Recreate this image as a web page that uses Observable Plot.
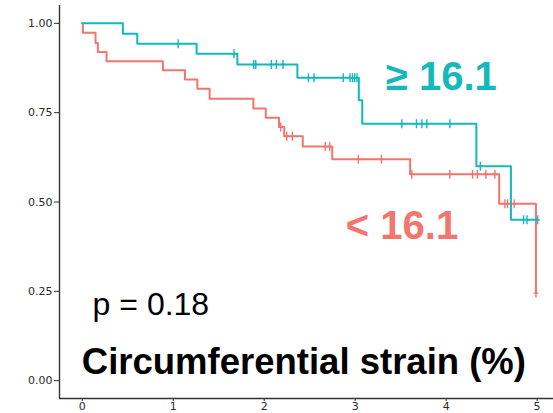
<!DOCTYPE html>
<html>
<head>
<meta charset="utf-8">
<script src="https://cdn.jsdelivr.net/npm/d3@7"></script>
<script src="https://cdn.jsdelivr.net/npm/@observablehq/plot@0.6"></script>
<style>
  html, body { margin: 0; padding: 0; background: #fff; }
</style>
</head>
<body>
<div id="chart"></div>
<script>
// Kaplan–Meier survival by circumferential strain group (time in years)
const groups = ["< 16.1", "≥ 16.1"];
const groupColors = ["#F2766D", "#14B8BD"];

// < 16.1 group: event times and survival after each event
const lowTimes = [0, 0.007, 0.146, 0.172, 0.267, 0.887, 1.129, 1.265, 1.400, 1.881, 2.017, 2.163, 2.220, 2.424, 2.748, 3.604, 4.583, 4.987];
const lowSurv  = [1, 0.974, 0.945, 0.920, 0.894, 0.869, 0.843, 0.817, 0.789, 0.762, 0.736, 0.710, 0.684, 0.655, 0.620, 0.578, 0.495, 0.245];
const lowCensor = [2.181, 2.248, 2.310, 2.671, 2.721, 3.034, 3.289, 3.623, 4.041, 4.290, 4.343, 4.437, 4.536, 4.646, 4.675, 4.748, 4.987];

// ≥ 16.1 group
const highTimes = [0, 0.447, 0.605, 1.257, 1.705, 2.365, 3.040, 3.078, 4.332, 4.712];
const highSurv  = [1, 0.971, 0.943, 0.915, 0.885, 0.848, 0.785, 0.719, 0.600, 0.450];
const highCensor = [1.054, 1.668, 1.885, 1.907, 2.079, 2.134, 2.207, 2.486, 2.548, 2.869, 2.943, 2.970, 2.995, 3.020, 3.513, 3.674, 3.733, 3.788, 4.041, 4.376, 4.851, 4.889, 5.006];

const pValue = "0.18";
const xTicks = [0, 1, 2, 3, 4, 5];
const yTicks = [0, 0.25, 0.5, 0.75, 1];

// survival level in effect at time t
function survivalAt(times, surv, t) {
  let s = surv[0];
  for (let i = 0; i < times.length; i++) if (times[i] <= t) s = surv[i];
  return s;
}

function curveRows(group, times, surv, censor) {
  const rows = times.map((t, i) => ({group, time: t, surv: surv[i]}));
  const end = Math.max(d3.max(times), d3.max(censor));
  if (end > d3.max(times)) rows.push({group, time: end, surv: survivalAt(times, surv, end)});
  return rows;
}

const steps = [
  ...curveRows(groups[0], lowTimes, lowSurv, lowCensor),
  ...curveRows(groups[1], highTimes, highSurv, highCensor)
];
const censored = [
  ...lowCensor.map(t => ({group: groups[0], time: t, surv: survivalAt(lowTimes, lowSurv, t)})),
  ...highCensor.map(t => ({group: groups[1], time: t, surv: survivalAt(highTimes, highSurv, t)}))
];

// "+" tick used for censored observations
const censorSymbol = {
  draw(ctx, size) {
    const h = Math.sqrt(size / Math.PI);
    ctx.moveTo(0, -h); ctx.lineTo(0, h);
    ctx.moveTo(-h * 0.5, 0); ctx.lineTo(h * 0.5, 0);
  }
};

const chart = Plot.plot({
  width: 553,
  height: 413,
  marginLeft: 59,
  marginRight: 0,
  marginTop: 5,
  marginBottom: 15,
  style: {fontFamily: "DejaVu Sans", fontSize: "11px", color: "#2a2a2a", background: "#fff"},
  x: {domain: [-0.25, 5.18], ticks: xTicks, tickFormat: d3.format("d"), tickSize: 3, tickPadding: 1, label: null},
  y: {domain: [-0.05, 1.05], ticks: yTicks, tickFormat: d3.format(".2f"), tickSize: 5, tickPadding: 2, label: null},
  color: {domain: groups, range: groupColors},
  marks: [
    Plot.ruleX([-0.25], {stroke: "#333", strokeWidth: 1.4}),
    Plot.ruleY([-0.05], {stroke: "#333", strokeWidth: 1.4}),
    Plot.line(steps, {x: "time", y: "surv", z: "group", stroke: "group", curve: "step-after", strokeWidth: 2}),
    Plot.dot(censored, {x: "time", y: "surv", stroke: "group", symbol: censorSymbol, r: 4.5, strokeWidth: 1.4, fill: "none"}),
    Plot.text([groups[1]], {x: 3.337, y: 0.848, text: d => d, textAnchor: "start", lineAnchor: "middle",
      fontFamily: "Liberation Sans", fontWeight: "bold", fontSize: 40, fill: groupColors[1]}),
    Plot.text([groups[0]], {x: 2.897, y: 0.431, text: d => d, textAnchor: "start", lineAnchor: "middle",
      fontFamily: "Liberation Sans", fontWeight: "bold", fontSize: 40, fill: groupColors[0]}),
    Plot.text([`p = ${pValue}`], {x: 0.114, y: 0.212, text: d => d, textAnchor: "start", lineAnchor: "middle",
      fontFamily: "Liberation Sans", fontSize: 32, fill: "#000"}),
    Plot.text(["Circumferential strain (%)"], {x: -0.005, y: 0.05, text: d => d, textAnchor: "start", lineAnchor: "middle",
      fontFamily: "Liberation Sans", fontWeight: "bold", fontSize: 36.5, fill: "#000"})
  ]
});

document.getElementById("chart").append(chart);
</script>
</body>
</html>
